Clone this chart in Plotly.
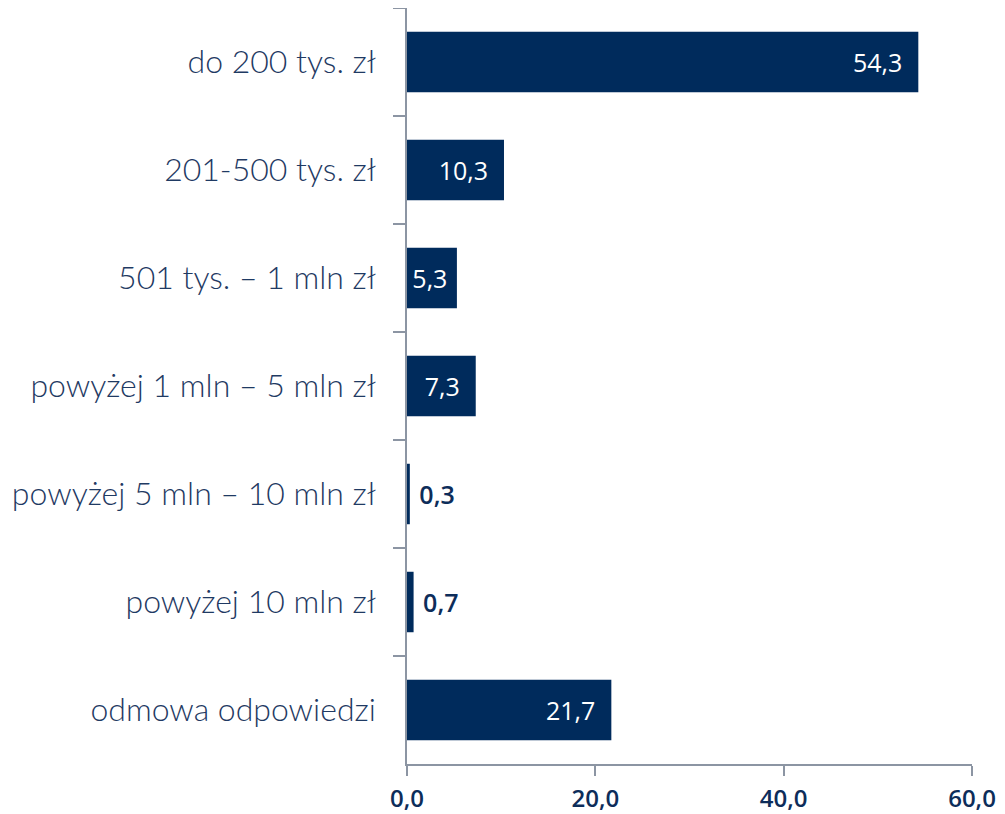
import plotly.graph_objects as go

categories = [
    "do 200 tys. zł",
    "201-500 tys. zł",
    "501 tys. – 1 mln zł",
    "powyżej 1 mln – 5 mln zł",
    "powyżej 5 mln – 10 mln zł",
    "powyżej 10 mln zł",
    "odmowa odpowiedzi",
]
values = [54.3, 10.3, 5.3, 7.3, 0.3, 0.7, 21.7]
x_ticks = [0, 20, 40, 60]
x_tick_labels = ["0,0", "20,0", "40,0", "60,0"]

NAVY = "#002B5C"
inside_threshold = 2.0

labels = []
positions = []
colors = []
weights = []
for v in values:
    s = f"{v:.1f}".replace(".", ",")
    if v >= inside_threshold:
        pad = "\u00a0\u00a0" if v >= 6 else "\u00a0"
        labels.append(s + pad)
        positions.append("inside")
        colors.append("white")
        weights.append(400)
    else:
        labels.append("\u00a0" + s)
        positions.append("outside")
        colors.append("#0D2D5A")
        weights.append(600)

fig = go.Figure(
    go.Bar(
        x=values,
        y=categories,
        orientation="h",
        marker=dict(color=NAVY, line=dict(width=0)),
        text=labels,
        textposition=positions,
        insidetextanchor="end",
        textangle=0,
        constraintext="none",
        cliponaxis=False,
        textfont=dict(family="Open Sans", size=25, color=colors, weight=weights),
    )
)

fig.update_layout(
    width=989,
    height=806,
    margin=dict(l=399, r=25, t=0, b=50),
    paper_bgcolor="white",
    plot_bgcolor="white",
    bargap=0.44,
    showlegend=False,
    xaxis=dict(
        range=[0, 60],
        tickvals=x_ticks,
        ticktext=x_tick_labels,
        showgrid=False,
        zeroline=False,
        showline=True,
        linecolor="#8C95A3",
        linewidth=1.5,
        ticks="outside",
        ticklen=10,
        tickcolor="#8C95A3",
        tickwidth=1.5,
        ticklabelstandoff=2,
        automargin=False,
        tickfont=dict(family="Open Sans", size=24, color="#0D2D5A", weight=600),
    ),
    yaxis=dict(
        autorange="reversed",
        showgrid=False,
        zeroline=False,
        showline=True,
        linecolor="#8C95A3",
        linewidth=1.5,
        ticks="outside",
        tickson="boundaries",
        ticklen=12,
        tickcolor="#8C95A3",
        tickwidth=1.5,
        ticklabelstandoff=23,
        automargin=False,
        tickfont=dict(family="Lato", size=32, color="#1F3A63", weight=300),
    ),
)

fig.write_html("out.html")
